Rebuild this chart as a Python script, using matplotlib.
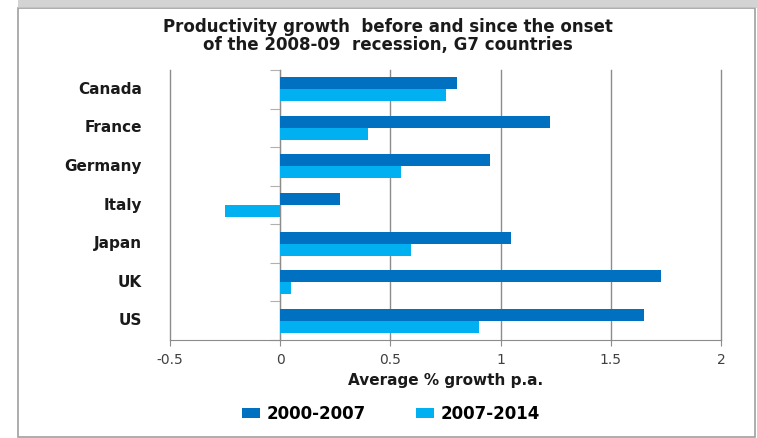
import matplotlib.pyplot as plt
import numpy as np
from matplotlib.patches import Rectangle

plt.rcParams['font.family'] = ['DejaVu Sans']

countries = ['Canada', 'France', 'Germany', 'Italy', 'Japan', 'UK', 'US']
growth_2000_2007 = [0.80, 1.225, 0.95, 0.27, 1.045, 1.73, 1.65]
growth_2007_2014 = [0.75, 0.40, 0.55, -0.25, 0.595, 0.05, 0.90]
series_names = ['2000-2007', '2007-2014']
xticks = [-0.5, 0, 0.5, 1, 1.5, 2]
xtick_labels = ['-0.5', '0', '0.5', '1', '1.5', '2']

dark_blue = '#0070C0'
light_blue = '#00B0F0'
grid_grey = '#8c8c8c'
text_col = '#1a1a1a'

fig = plt.figure(figsize=(7.57, 4.38), dpi=100)

# chart frame and the shadow strip above it
fig.patches.append(Rectangle((18 / 757, 1 / 438), 737 / 757, 429 / 438,
                             transform=fig.transFigure, fill=False,
                             edgecolor='#a0a0a0', linewidth=1.2))
fig.patches.append(Rectangle((18 / 757, 430 / 438), 739 / 757, 8 / 438,
                             transform=fig.transFigure, facecolor='#c8c8c8',
                             edgecolor='none', alpha=0.8))

ax = fig.add_axes([170 / 757, 98 / 438, 551 / 757, 270 / 438])

y = np.arange(len(countries))
h = 0.31
ax.barh(y - h / 2, growth_2000_2007, height=h, color=dark_blue, label=series_names[0], zorder=3)
ax.barh(y + h / 2, growth_2007_2014, height=h, color=light_blue, label=series_names[1], zorder=3)

ax.set_xlim(-0.5, 2)
ax.set_ylim(len(countries) - 0.5, -0.5)

ax.set_xticks(xticks)
ax.set_xticklabels(xtick_labels, fontsize=10, color='#404040')
ax.tick_params(axis='x', direction='out', length=4, color=grid_grey, pad=5)
ax.grid(axis='x', color=grid_grey, linewidth=1.0, zorder=0)
for gl in ax.get_xgridlines():
    gl.set_clip_on(False)

# y axis sits on zero, ticks mark the category boundaries
ax.spines['left'].set_position(('data', 0))
ax.spines['left'].set_color(grid_grey)
ax.set_yticks(np.arange(len(countries) + 1) - 0.5)
ax.set_yticklabels([])
ax.tick_params(axis='y', direction='out', length=7, color='#b0b0b0')
for s in ['top', 'right']:
    ax.spines[s].set_visible(False)
ax.spines['bottom'].set_color(grid_grey)

for i, name in enumerate(countries):
    ax.text(-0.051, i, name, transform=ax.get_yaxis_transform(),
            ha='right', va='center', fontsize=11, fontweight='bold', color=text_col)

ax.set_xlabel('Average % growth p.a.', fontsize=11, fontweight='bold',
              color=text_col, labelpad=5)

fig.text(388 / 757, 1 - 27 / 438, 'Productivity growth  before and since the onset',
         ha='center', va='center', fontsize=12, fontweight='bold', color=text_col)
fig.text(388 / 757, 1 - 45 / 438, 'of the 2008-09  recession, G7 countries',
         ha='center', va='center', fontsize=12, fontweight='bold', color=text_col)

fig.legend(loc='center', bbox_to_anchor=(391 / 757, 1 - 414 / 438), ncol=2,
           frameon=False, prop={'weight': 'bold', 'size': 12},
           handlelength=1.1, handleheight=0.6, columnspacing=3.0, handletextpad=0.4)

fig.savefig('out.png', dpi=100)
